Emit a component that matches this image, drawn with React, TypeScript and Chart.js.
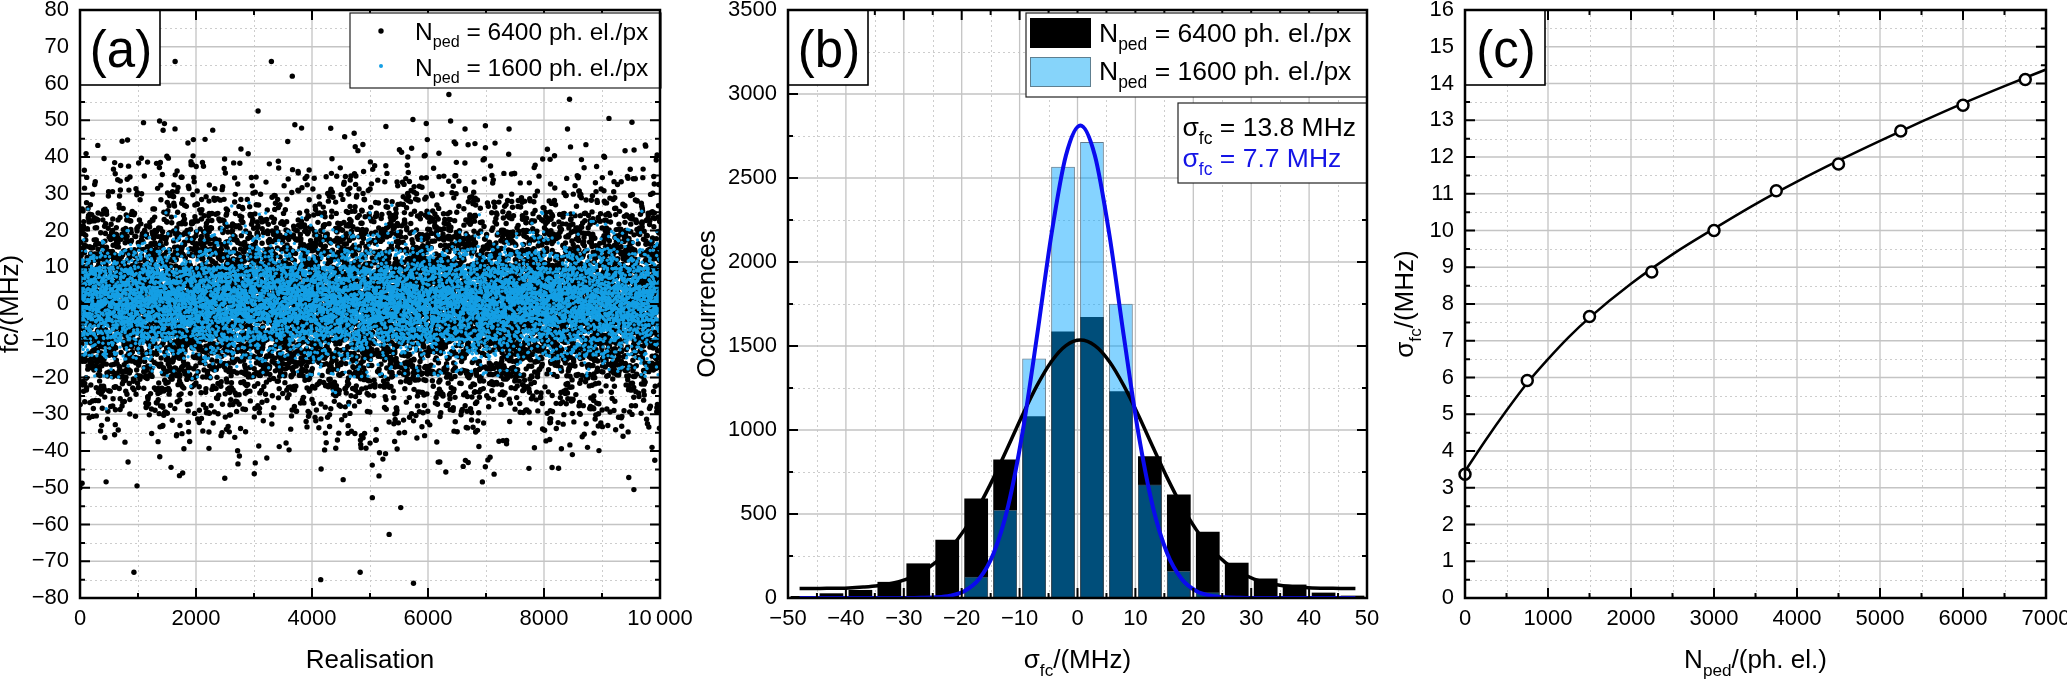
import React, { useEffect, useRef } from "react";
import { Chart, registerables } from "chart.js";

Chart.register(...registerables);

const FONT = "'Liberation Sans', Arial, Helvetica, sans-serif";
const W = 2067;
const H = 680;
const PLOT_TOP = 10;
const PLOT_BOTTOM = 598;

const BLUE_DOT = "#159fe4";
const BLUE_LINE = "#0a0aee";
const BLUE_BAR = "rgba(0,164,255,0.48)";
const BLUE_SWATCH = "#86d4fa";

// ---------------- data ----------------
// Histogram of fc, 5 MHz bins (panel b), also the value distribution of panel (a)
const binCenters = [-47.5, -42.5, -37.5, -32.5, -27.5, -22.5, -17.5, -12.5, -7.5, -2.5, 2.5, 7.5, 12.5, 17.5, 22.5, 27.5, 32.5, 37.5, 42.5, 47.5];
const counts6400 = [12, 28, 48, 96, 206, 346, 592, 824, 1082, 1586, 1672, 1230, 844, 616, 394, 210, 116, 80, 32, 14];
const counts1600 = [0, 0, 0, 0, 2, 8, 126, 524, 1426, 2567, 2714, 1752, 676, 160, 34, 4, 0, 0, 0, 0];

// Isolated far points of the 6400 ph. el./px series in panel (a)
const outlier6400X = [1640, 3300, 3660, 3070, 6360, 5740, 5970, 8440, 9120, 6390, 930, 4150, 4830, 5330, 5530, 5750, 5040, 9550, 450, 1770, 7140];
const outlier6400Y = [66, 66, 62, 52.5, 57, 50.2, 49.1, 55.7, 50.5, 49.8, -73, -75, -73, -62.7, -55.4, -76, -52.7, -50.5, -48.4, -46, -46.3];

// Fitted curves of panel (b)
const fitX = [-48, -44.5, -39.5, -37, -34.5, -32, -29.5, -27, -24.5, -22, -19.5, -17, -14.5, -12, -9.5, -7, -4.5, -2, 0.5, 3, 5.5, 8, 10.5, 13, 15.5, 18, 20.5, 23, 25.5, 28, 30.5, 33, 35.5, 38, 40.5, 45.5, 48];
const fit6400 = [56, 57, 60, 65, 73, 88, 113, 153, 212, 295, 407, 548, 715, 900, 1089, 1264, 1408, 1502, 1535, 1502, 1408, 1264, 1089, 900, 715, 548, 407, 295, 212, 153, 113, 88, 73, 65, 60, 57, 56];
const fit1600 = [0, 0, 0, 0, 0, 0, 0, 1, 4, 14, 42, 113, 265, 545, 984, 1558, 2164, 2634, 2813, 2634, 2164, 1558, 984, 545, 265, 113, 42, 14, 4, 1, 0, 0, 0, 0, 0, 0, 0];

// Panel (c)
const nPed = [0, 750, 1500, 2250, 3000, 3750, 4500, 5250, 6000, 6750];
const sigmaFc = [3.37, 5.92, 7.66, 8.87, 10.0, 11.08, 11.81, 12.71, 13.41, 14.11];
const sigmaFitN = [0, 250, 500, 750, 1000, 1250, 1500, 2000, 2500, 3000, 3500, 4000, 4500, 5000, 5500, 6000, 6500, 7000];
const sigmaFitY = [3.45, 4.3, 5.1, 5.85, 6.5, 7.1, 7.63, 8.55, 9.35, 10.05, 10.72, 11.33, 11.9, 12.44, 12.96, 13.46, 13.93, 14.38];

// ---------------- helpers ----------------
function histQuantile(counts: number[], u: number) {
  const total = counts.reduce((s, c) => s + c, 0);
  let t = u * total;
  for (let k = 0; k < counts.length; k++) {
    if (t < counts[k]) return binCenters[k] - 2.5 + (5 * t) / counts[k];
    t -= counts[k];
  }
  return binCenters[binCenters.length - 1] + 2.5;
}

// one point per realisation index; values follow the read histogram through an
// equidistributed (cubic Weyl) ordering of its quantiles
function spreadCounts(counts: number[], a3: number, a2: number, a1: number) {
  const n = counts.reduce((s, c) => s + c, 0);
  const pts: { x: number; y: number }[] = [];
  for (let i = 0; i < n; i++) {
    const j = i % 1000;
    const k = Math.floor(i / 1000);
    const q = ((i * i) % 1000003) * a2 + i * a1 + ((j * j * j) % 999983) * a3 + k * 0.37;
    const u = q - Math.floor(q);
    pts.push({ x: (i * 10000) / n, y: histQuantile(counts, u) });
  }
  return pts;
}

const minusFmt = (v: number) => (v < 0 ? "\u2212" + Math.abs(v) : String(v));

type Seg = { t: string; sub?: boolean };
const SUB = 0.66;

function segsWidth(ctx: CanvasRenderingContext2D, segs: Seg[], size: number) {
  let w = 0;
  for (const s of segs) {
    ctx.font = `${s.sub ? size * SUB : size}px ${FONT}`;
    w += ctx.measureText(s.t).width;
  }
  return w;
}

function drawSegs(ctx: CanvasRenderingContext2D, segs: Seg[], x: number, y: number, size: number, color: string, align: "left" | "center" = "left") {
  let cx = align === "center" ? x - segsWidth(ctx, segs, size) / 2 : x;
  ctx.fillStyle = color;
  ctx.textAlign = "left";
  ctx.textBaseline = "alphabetic";
  for (const s of segs) {
    const fs = s.sub ? size * SUB : size;
    ctx.font = `${fs}px ${FONT}`;
    ctx.fillText(s.t, cx, s.sub ? y + size * 0.3 : y);
    cx += ctx.measureText(s.t).width;
  }
}

function yTitle(ctx: CanvasRenderingContext2D, segs: Seg[], baselineX: number, cy: number, size: number) {
  ctx.save();
  ctx.translate(baselineX, cy);
  ctx.rotate(-Math.PI / 2);
  drawSegs(ctx, segs, 0, 0, size, "#000", "center");
  ctx.restore();
}

function fillBox(ctx: CanvasRenderingContext2D, x: number, y: number, w: number, h: number, lw: number, stroke: string) {
  ctx.fillStyle = "#fff";
  ctx.fillRect(x, y, w, h);
  ctx.lineWidth = lw;
  ctx.strokeStyle = stroke;
  ctx.strokeRect(x, y, w, h);
}

function panelLabel(ctx: CanvasRenderingContext2D, a: any, text: string) {
  fillBox(ctx, a.left, a.top, 80, 75, 1.6, "#000");
  ctx.font = `51px ${FONT}`;
  ctx.fillStyle = "#000";
  ctx.textAlign = "center";
  ctx.textBaseline = "alphabetic";
  ctx.fillText(text, a.left + 41, a.top + 57);
}

function vals(min: number, max: number, step: number) {
  const out: number[] = [];
  const n = Math.round((max - min) / step);
  for (let i = 0; i <= n; i++) out.push(min + i * step);
  return out;
}
const isMajor = (v: number, major: number) => Math.abs(v / major - Math.round(v / major)) < 1e-6;

type Grid = { xMajor: number; xMinor: number; yMajor: number; yMinor: number };

function drawGrid(chart: any, g: Grid) {
  const { ctx, chartArea: a } = chart;
  const xs = chart.scales.x;
  const ys = chart.scales.y;
  ctx.save();
  ctx.beginPath();
  ctx.rect(a.left, a.top, a.right - a.left, a.bottom - a.top);
  ctx.clip();
  ctx.setLineDash([2, 3]);
  ctx.lineWidth = 1;
  ctx.strokeStyle = "#cdcdcd";
  ctx.beginPath();
  for (const v of vals(xs.min, xs.max, g.xMinor)) {
    if (isMajor(v, g.xMajor)) continue;
    const p = Math.round(xs.getPixelForValue(v)) + 0.5;
    ctx.moveTo(p, a.top);
    ctx.lineTo(p, a.bottom);
  }
  for (const v of vals(ys.min, ys.max, g.yMinor)) {
    if (isMajor(v, g.yMajor)) continue;
    const p = Math.round(ys.getPixelForValue(v)) + 0.5;
    ctx.moveTo(a.left, p);
    ctx.lineTo(a.right, p);
  }
  ctx.stroke();
  ctx.setLineDash([]);
  ctx.lineWidth = 1.3;
  ctx.strokeStyle = "#c4c4c4";
  ctx.beginPath();
  for (const v of vals(xs.min, xs.max, g.xMajor)) {
    const p = xs.getPixelForValue(v);
    ctx.moveTo(p, a.top);
    ctx.lineTo(p, a.bottom);
  }
  for (const v of vals(ys.min, ys.max, g.yMajor)) {
    const p = ys.getPixelForValue(v);
    ctx.moveTo(a.left, p);
    ctx.lineTo(a.right, p);
  }
  ctx.stroke();
  ctx.restore();
}

function drawTicks(chart: any, g: Grid) {
  const { ctx, chartArea: a } = chart;
  const xs = chart.scales.x;
  const ys = chart.scales.y;
  ctx.save();
  ctx.strokeStyle = "#000";
  ctx.lineWidth = 2;
  ctx.beginPath();
  for (const v of vals(xs.min, xs.max, g.xMinor)) {
    const L = isMajor(v, g.xMajor) ? 10 : 5;
    const p = xs.getPixelForValue(v);
    ctx.moveTo(p, a.bottom);
    ctx.lineTo(p, a.bottom - L);
    ctx.moveTo(p, a.top);
    ctx.lineTo(p, a.top + L);
  }
  for (const v of vals(ys.min, ys.max, g.yMinor)) {
    const L = isMajor(v, g.yMajor) ? 10 : 5;
    const p = ys.getPixelForValue(v);
    ctx.moveTo(a.left, p);
    ctx.lineTo(a.left + L, p);
    ctx.moveTo(a.right, p);
    ctx.lineTo(a.right - L, p);
  }
  ctx.stroke();
  ctx.restore();
}

function drawFrame(chart: any) {
  const { ctx, chartArea: a } = chart;
  ctx.save();
  ctx.strokeStyle = "#000";
  ctx.lineWidth = 2.5;
  ctx.strokeRect(a.left, a.top, a.right - a.left, a.bottom - a.top);
  ctx.restore();
}

function decor(g: Grid, draw: (chart: any) => void) {
  return {
    id: "decor",
    beforeDatasetsDraw(chart: any) {
      drawGrid(chart, g);
    },
    afterDatasetsDraw(chart: any) {
      const ctx = chart.ctx;
      drawTicks(chart, g);
      ctx.save();
      draw(chart);
      ctx.restore();
      drawFrame(chart);
    },
  };
}

type AxisDef = { min: number; max: number; step: number; fmt: (v: number) => string };

function baseOptions(padL: number, plotRight: number, yWidth: number, x: AxisDef, y: AxisDef): any {
  const tickFont = { family: FONT, size: 22 };
  return {
    responsive: false,
    animation: false,
    events: [],
    layout: { padding: { left: padL, right: W - plotRight, top: PLOT_TOP, bottom: 0 } },
    plugins: { legend: { display: false }, tooltip: { enabled: false }, title: { display: false } },
    scales: {
      x: {
        type: "linear",
        min: x.min,
        max: x.max,
        offset: false,
        ticks: {
          stepSize: x.step,
          font: tickFont,
          color: "#000",
          padding: 8,
          maxRotation: 0,
          minRotation: 0,
          autoSkip: false,
          callback: (v: any) => x.fmt(Number(v)),
        },
        grid: { display: false, drawTicks: false },
        border: { display: false },
        afterFit: (s: any) => {
          s.height = H - PLOT_BOTTOM;
          s.paddingLeft = 0;
          s.paddingRight = 0;
        },
      },
      y: {
        type: "linear",
        min: y.min,
        max: y.max,
        ticks: {
          stepSize: y.step,
          font: tickFont,
          color: "#000",
          padding: 11,
          autoSkip: false,
          callback: (v: any) => y.fmt(Number(v)),
        },
        grid: { display: false, drawTicks: false },
        border: { display: false },
        afterFit: (s: any) => {
          s.width = yWidth;
          s.paddingTop = 0;
          s.paddingBottom = 0;
        },
      },
    },
  };
}

const NPED = (rest: string): Seg[] => [{ t: "N" }, { t: "ped", sub: true }, { t: rest }];
const SIGFC = (rest: string): Seg[] => [{ t: "\u03c3" }, { t: "fc", sub: true }, { t: rest }];

// ---------------- panels ----------------
function makeA(canvas: HTMLCanvasElement) {
  const cloud6400 = spreadCounts(counts6400, 0.7548776662466927, 0.6180339887498949, 0.2071067811865476);
  const cloud1600 = spreadCounts(counts1600, 0.5698402909980532, 0.4142135623730951, 0.7320508075688772);
  const far6400 = outlier6400X.map((x, i) => ({ x, y: outlier6400Y[i] }));
  const opts = baseOptions(
    0, 660, 80,
    { min: 0, max: 10000, step: 2000, fmt: (v) => (v === 10000 ? "10\u2009000" : String(v)) },
    { min: -80, max: 80, step: 10, fmt: minusFmt }
  );
  return new Chart(canvas, {
    type: "scatter",
    data: {
      datasets: [
        { data: cloud1600, pointRadius: 1.7, pointBackgroundColor: BLUE_DOT, pointBorderWidth: 0, order: 0 } as any,
        { data: [...cloud6400, ...far6400], pointRadius: 2.7, pointBackgroundColor: "#000", pointBorderWidth: 0, order: 1 } as any,
      ],
    },
    options: opts,
    plugins: [
      decor({ xMajor: 2000, xMinor: 1000, yMajor: 10, yMinor: 5 }, (chart) => {
        const { ctx, chartArea: a } = chart;
        const lx = a.right - 310;
        const ly = a.top + 3;
        fillBox(ctx, lx, ly, 311, 75, 1.2, "#222");
        ctx.fillStyle = "#000";
        ctx.beginPath();
        ctx.arc(lx + 31, ly + 18, 2.7, 0, Math.PI * 2);
        ctx.fill();
        ctx.fillStyle = BLUE_DOT;
        ctx.beginPath();
        ctx.arc(lx + 31, ly + 53, 2, 0, Math.PI * 2);
        ctx.fill();
        drawSegs(ctx, NPED(" = 6400 ph. el./px"), lx + 65, ly + 27, 24.5, "#000");
        drawSegs(ctx, NPED(" = 1600 ph. el./px"), lx + 65, ly + 63, 24.5, "#000");
        panelLabel(ctx, a, "(a)");
        drawSegs(ctx, [{ t: "Realisation" }], (a.left + a.right) / 2, 668, 26, "#000", "center");
        yTitle(ctx, [{ t: "fc/(MHz)" }], 18, (a.top + a.bottom) / 2, 26);
      }),
    ],
  });
}

function makeB(canvas: HTMLCanvasElement) {
  const opts = baseOptions(
    700, 1367, 88,
    { min: -50, max: 50, step: 10, fmt: minusFmt },
    { min: 0, max: 3500, step: 500, fmt: minusFmt }
  );
  const barCommon = { grouped: false, barPercentage: 0.82, categoryPercentage: 1 };
  return new Chart(canvas, {
    type: "bar",
    data: {
      datasets: [
        {
          type: "line",
          data: fitX.map((x, i) => ({ x, y: fit1600[i] })),
          borderColor: BLUE_LINE,
          borderWidth: 4,
          pointRadius: 0,
          cubicInterpolationMode: "monotone",
          order: 0,
        } as any,
        {
          type: "line",
          data: fitX.map((x, i) => ({ x, y: fit6400[i] })),
          borderColor: "#000",
          borderWidth: 3.5,
          pointRadius: 0,
          cubicInterpolationMode: "monotone",
          order: 1,
        } as any,
        {
          type: "bar",
          data: binCenters.map((x, i) => ({ x, y: counts1600[i] })),
          backgroundColor: BLUE_BAR,
          borderColor: "rgba(70,100,120,0.85)",
          borderWidth: 1,
          order: 2,
          ...barCommon,
        } as any,
        {
          type: "bar",
          data: binCenters.map((x, i) => ({ x, y: counts6400[i] })),
          backgroundColor: "#000",
          borderWidth: 0,
          order: 3,
          ...barCommon,
        } as any,
      ],
    },
    options: opts,
    plugins: [
      decor({ xMajor: 10, xMinor: 5, yMajor: 500, yMinor: 250 }, (chart) => {
        const { ctx, chartArea: a } = chart;
        const lx = a.right - 341;
        const ly = a.top + 3;
        fillBox(ctx, lx, ly, 341, 84, 1.2, "#222");
        ctx.fillStyle = "#000";
        ctx.fillRect(lx + 4, ly + 5, 61, 30);
        ctx.fillStyle = BLUE_SWATCH;
        ctx.fillRect(lx + 4, ly + 44, 61, 30);
        ctx.lineWidth = 1;
        ctx.strokeStyle = "#5e7f90";
        ctx.strokeRect(lx + 4.5, ly + 44.5, 60, 29);
        drawSegs(ctx, NPED(" = 6400 ph. el./px"), lx + 73, ly + 29, 26.5, "#000");
        drawSegs(ctx, NPED(" = 1600 ph. el./px"), lx + 73, ly + 67, 26.5, "#000");

        const bx = a.right - 189;
        const by = a.top + 93;
        fillBox(ctx, bx, by, 189, 80, 1.2, "#222");
        drawSegs(ctx, SIGFC(" = 13.8 MHz"), bx + 4.5, by + 33, 26.5, "#000");
        drawSegs(ctx, SIGFC(" = 7.7 MHz"), bx + 4.5, by + 64, 26.5, "#1414e6");

        panelLabel(ctx, a, "(b)");
        drawSegs(ctx, SIGFC("/(MHz)"), (a.left + a.right) / 2, 668, 26, "#000", "center");
        yTitle(ctx, [{ t: "Occurrences" }], 715, (a.top + a.bottom) / 2, 26);
      }),
    ],
  });
}

function makeC(canvas: HTMLCanvasElement) {
  const opts = baseOptions(
    1390, 2046, 75,
    { min: 0, max: 7000, step: 1000, fmt: (v) => String(v) },
    { min: 0, max: 16, step: 1, fmt: (v) => String(v) }
  );
  return new Chart(canvas, {
    type: "scatter",
    data: {
      datasets: [
        {
          data: nPed.map((x, i) => ({ x, y: sigmaFc[i] })),
          pointRadius: 5.5,
          pointBackgroundColor: "#fff",
          pointBorderColor: "#000",
          pointBorderWidth: 2.5,
          clip: false,
          order: 0,
        } as any,
        {
          data: sigmaFitN.map((x, i) => ({ x, y: sigmaFitY[i] })),
          showLine: true,
          pointRadius: 0,
          borderColor: "#000",
          borderWidth: 2.5,
          cubicInterpolationMode: "monotone",
          order: 1,
        } as any,
      ],
    },
    options: opts,
    plugins: [
      decor({ xMajor: 1000, xMinor: 500, yMajor: 1, yMinor: 0.5 }, (chart) => {
        const { ctx, chartArea: a } = chart;
        panelLabel(ctx, a, "(c)");
        drawSegs(ctx, NPED("/(ph. el.)"), (a.left + a.right) / 2, 668, 26, "#000", "center");
        yTitle(ctx, SIGFC("/(MHz)"), 1413, (a.top + a.bottom) / 2, 26);
      }),
    ],
  });
}

function ChartCanvas({ make }: { make: (c: HTMLCanvasElement) => Chart }) {
  const ref = useRef<HTMLCanvasElement>(null);
  useEffect(() => {
    const chart = make(ref.current as HTMLCanvasElement);
    return () => chart.destroy();
  }, [make]);
  return (
    <canvas
      ref={ref}
      width={W}
      height={H}
      style={{ position: "absolute", left: 0, top: 0, width: W, height: H }}
    />
  );
}

export default function App() {
  return (
    <div style={{ position: "absolute", left: 0, top: 0, width: W, height: H, background: "#fff", overflow: "hidden" }}>
      <ChartCanvas make={makeA} />
      <ChartCanvas make={makeB} />
      <ChartCanvas make={makeC} />
    </div>
  );
}
